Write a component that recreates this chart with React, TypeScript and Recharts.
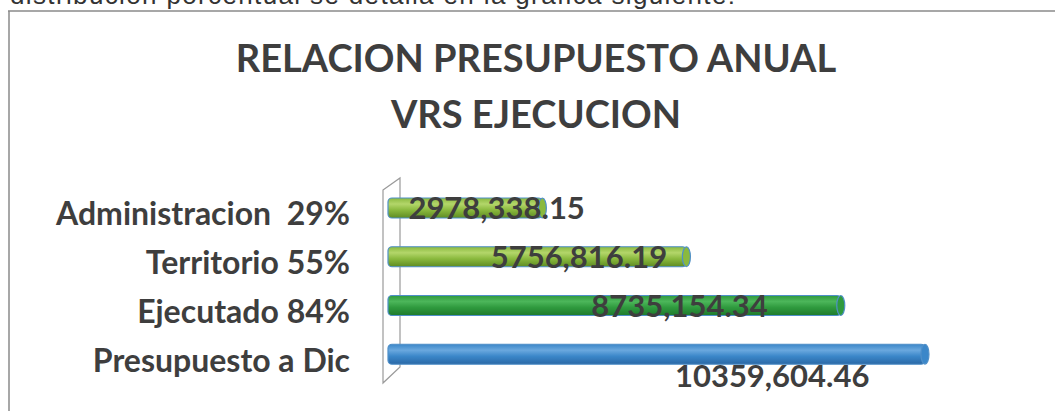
import React from "react";
import { BarChart, Bar, XAxis, YAxis, LabelList, Customized } from "recharts";

// chart values
const categories = ["Administracion  29%", "Territorio 55%", "Ejecutado 84%", "Presupuesto a Dic"];
const amounts = [2978338.15, 5756816.19, 8735154.34, 10359604.46];
const titleLines = ["RELACION PRESUPUESTO ANUAL", "VRS EJECUCION"];
const introText = "distribución porcentual se detalla en la gráfica siguiente:";

const data = categories.map((name, i) => ({ name, amount: amounts[i] }));

const W = 1055;
const H = 411;
const MARGIN = { top: 184, right: 45, bottom: 32, left: 0 };
const Y_AXIS_W = 388;
const TEXT = "#3e3e3e";
const FONT = "Lato, 'Open Sans', sans-serif";

// top / middle / bottom shades for each cylinder
const SHADES = [
  ["#b3d66a", "#8ab93e", "#5e8c22"],
  ["#b3d66a", "#8ab93e", "#5e8c22"],
  ["#4cb65a", "#2f9a3e", "#1f7a2c"],
  ["#6aa8de", "#3b87c9", "#2a68a6"],
];

// "10359,604.46" style: only the last thousands group gets a comma
const fmt = (v: number) => {
  const [int, dec] = v.toFixed(2).split(".");
  return `${int.slice(0, -3)},${int.slice(-3)}.${dec}`;
};

const CylinderBar = (props: any) => {
  const { x, y, width, height, index } = props;
  const [c1, c2, c3] = SHADES[index] || SHADES[0];
  const id = `cyl-${index}`;
  const rx = 4;
  return (
    <g>
      <defs>
        <linearGradient id={id} x1="0" y1="0" x2="0" y2="1">
          <stop offset="0%" stopColor={c2} />
          <stop offset="30%" stopColor={c1} />
          <stop offset="60%" stopColor={c2} />
          <stop offset="100%" stopColor={c3} />
        </linearGradient>
      </defs>
      <rect x={x} y={y} width={width} height={height} rx={rx} fill={`url(#${id})`} stroke="#4f8fc8" strokeWidth={1.2} />
      <ellipse cx={x + width} cy={y + height / 2} rx={rx} ry={height / 2} fill={c2} stroke="#4f8fc8" strokeWidth={1.2} />
    </g>
  );
};

const CategoryTick = (props: any) => {
  const { x, y, payload } = props;
  return (
    <text
      x={x - 30}
      y={y + 17}
      textAnchor="end"
      fill={TEXT}
      fontFamily={FONT}
      fontWeight={700}
      fontSize={32}
      style={{ whiteSpace: "pre" }}
    >
      {payload.value}
    </text>
  );
};

// Excel's 3D labels drift right and the last one drops under its bar
const NUDGE_X = [0, -6, 0, 41];
const NUDGE_Y = [0, 0, 0, 22];

const ValueLabel = (props: any) => {
  const { x, y, width, height, value, index } = props;
  const cx = x + width * 0.613 + 14 + (NUDGE_X[index] || 0);
  const cy = y + height / 2 + 11 + (NUDGE_Y[index] || 0);
  return (
    <text x={cx} y={cy} textAnchor="middle" fill={TEXT} fontFamily={FONT} fontWeight={700} fontSize={31}>
      {fmt(value)}
    </text>
  );
};

const Wall = () => {
  const left = MARGIN.left + Y_AXIS_W;
  const top = MARGIN.top;
  const bottom = H - MARGIN.bottom;
  const pts = [
    [left - 5, top + 6],
    [left + 12, top - 6],
    [left + 12, bottom - 12],
    [left - 5, bottom + 4],
  ]
    .map((p) => p.join(","))
    .join(" ");
  return <polygon points={pts} fill="#ffffff" stroke="#9a9a9a" strokeWidth={1.2} />;
};

export default function App() {
  return (
    <div style={{ position: "absolute", left: 0, top: 0, width: W, height: H, overflow: "hidden", background: "#fff" }}>
      <svg width={W} height={H} style={{ position: "absolute", left: 0, top: 0 }}>
        <text x={10} y={3.5} fontFamily="'Liberation Sans', Arial, sans-serif" fontSize={26} fill="#333" textLength={725} lengthAdjust="spacing">
          {introText}
        </text>
        <line x1={8} y1={11} x2={W} y2={11} stroke="#8a8a8a" strokeWidth={1.5} />
        <line x1={9} y1={11} x2={9} y2={H} stroke="#8a8a8a" strokeWidth={1.5} />
        {titleLines.map((t, i) => (
          <text key={t} x={536} y={72 + i * 56} textAnchor="middle" fill={TEXT} fontFamily={FONT} fontWeight={700} fontSize={38}>
            {t}
          </text>
        ))}
      </svg>
      <div style={{ position: "absolute", left: 0, top: 0 }}>
        <BarChart width={W} height={H} data={data} layout="vertical" margin={MARGIN}>
          <XAxis type="number" domain={[0, 12000000]} hide />
          <YAxis type="category" dataKey="name" width={Y_AXIS_W} axisLine={false} tickLine={false} tick={<CategoryTick />} />
          <Customized component={Wall} />
          <Bar dataKey="amount" barSize={20} shape={<CylinderBar />} isAnimationActive={false}>
            <LabelList dataKey="amount" content={<ValueLabel />} />
          </Bar>
        </BarChart>
      </div>
    </div>
  );
}
